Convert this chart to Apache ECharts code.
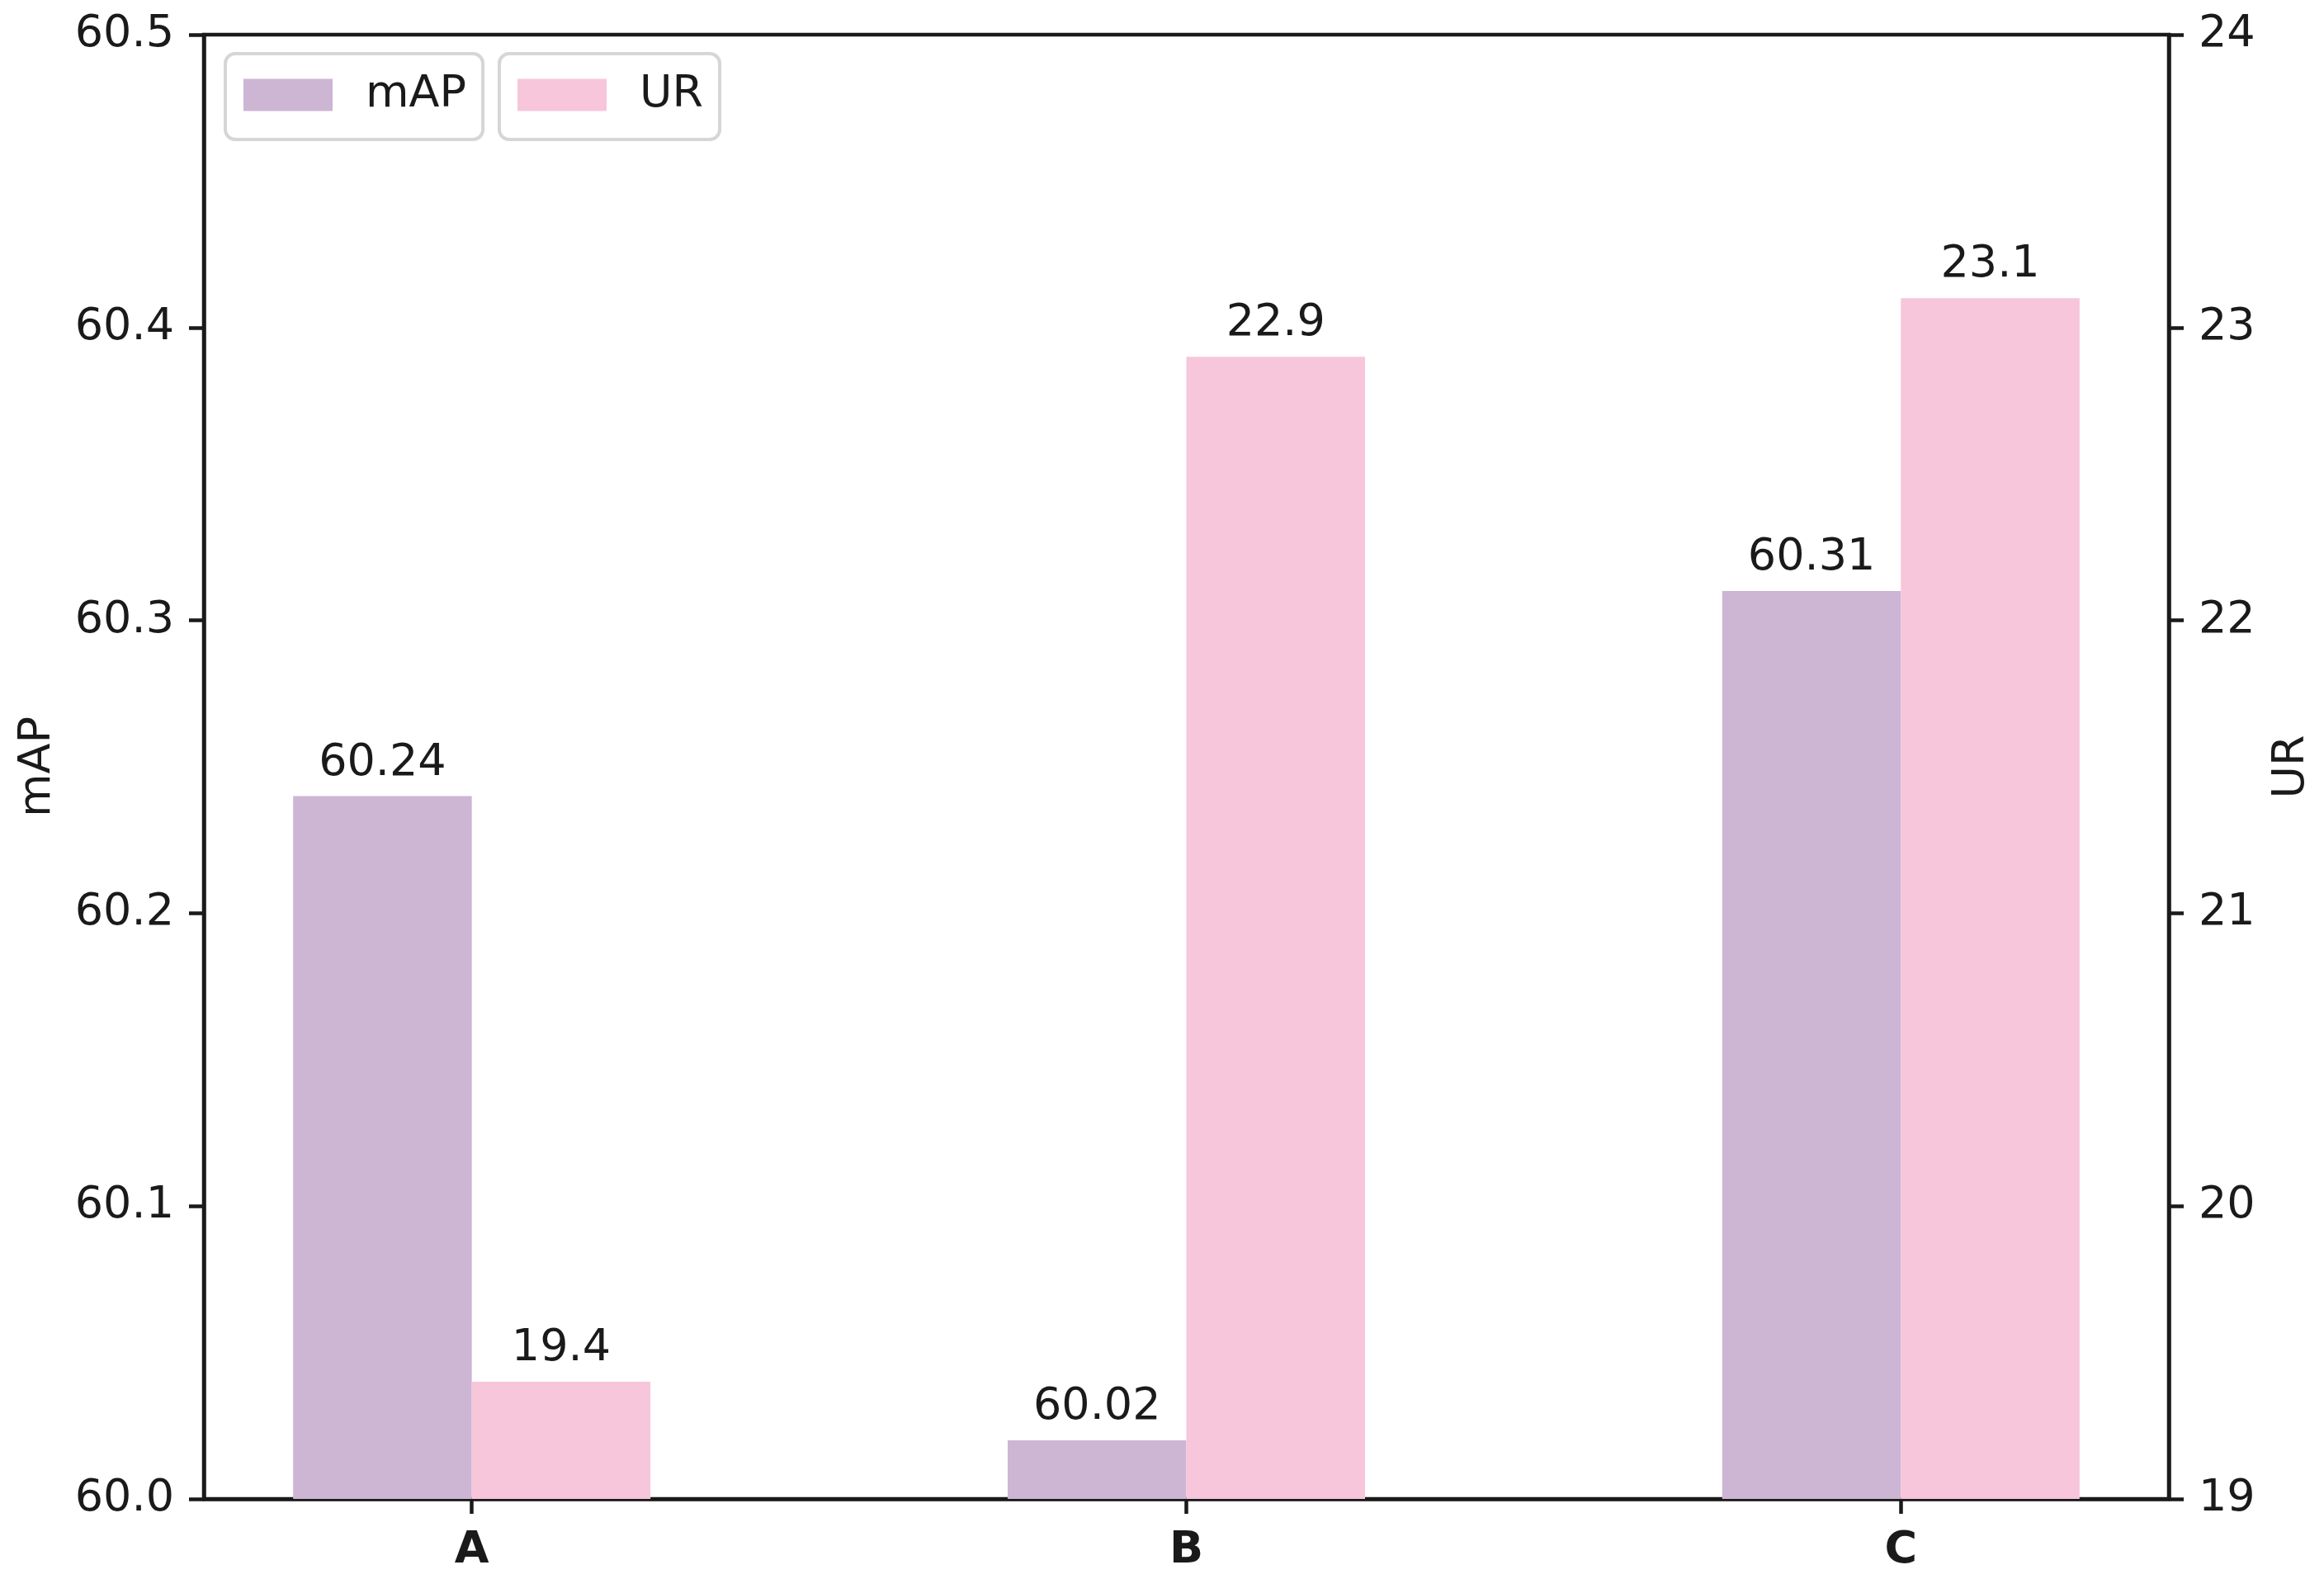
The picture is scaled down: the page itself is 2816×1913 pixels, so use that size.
<!DOCTYPE html>
<html>
<head>
<meta charset="utf-8">
<script src="https://cdn.jsdelivr.net/npm/echarts@6/dist/echarts.min.js"></script>
<style>html,body{margin:0;padding:0;background:#fff}#c{width:2816px;height:1913px}</style>
</head>
<body>
<div id="c"></div>
<script>
const categories = ['A', 'B', 'C'];
const mapValues = [60.24, 60.02, 60.31];
const urValues = [19.4, 22.9, 23.1];
const mapTicks = [60.0, 60.1, 60.2, 60.3, 60.4, 60.5];
const urTicks = [19, 20, 21, 22, 23, 24];

const INK = '#1a1a1a';
const FONT = 'DejaVu Sans';
const FS = 54;
const positions = categories.map((c, i) => i);

const chart = echarts.init(document.getElementById('c'), null, {renderer: 'canvas'});
const legendBase = {
  top: 65, orient: 'horizontal', itemWidth: 108, itemHeight: 39,
  padding: [23, 20, 27, 22], borderColor: '#d6d6d6', borderWidth: 4, borderRadius: 12,
  backgroundColor: '#fff', icon: 'rect', selectedMode: false,
  textStyle: {fontFamily: FONT, fontSize: FS, color: INK, padding: [0, 0, 0, 35], lineHeight: 47}
};
chart.setOption({
  animation: false,
  backgroundColor: '#fff',
  grid: {left: 247, right: 188, top: 42, bottom: 97, show: true, borderColor: INK, borderWidth: 4.5, backgroundColor: 'transparent'},
  legend: [
    Object.assign({}, legendBase, {left: 273, data: ['mAP']}),
    Object.assign({}, legendBase, {left: 605, data: ['UR']})
  ],
  xAxis: {
    type: 'value', min: -0.375, max: 2.375,
    splitLine: {show: false},
    axisLine: {show: true, onZero: false, lineStyle: {color: INK, width: 4.5}},
    axisTick: {show: true, customValues: positions, length: 18, lineStyle: {color: INK, width: 4.5}},
    axisLabel: {customValues: positions, margin: 36, fontFamily: FONT, fontSize: FS, fontWeight: 'bold', color: INK,
      formatter: v => categories[Math.round(v)] || ''}
  },
  yAxis: [
    {
      type: 'value', min: 60.0, max: 60.5, interval: 0.1, position: 'left',
      name: 'mAP', nameLocation: 'middle', nameGap: 174, nameRotate: 90,
      nameTextStyle: {fontFamily: FONT, fontSize: FS, color: INK},
      splitLine: {show: false},
      axisLine: {show: true, onZero: false, lineStyle: {color: INK, width: 4.5}},
      axisTick: {show: true, length: 18, lineStyle: {color: INK, width: 4.5}},
      axisLabel: {margin: 36, fontFamily: FONT, fontSize: FS, color: INK, formatter: v => {
        const t = mapTicks.find(x => Math.abs(x - v) < 1e-6); return t === undefined ? '' : t.toFixed(1); }}
    },
    {
      type: 'value', min: 19, max: 24, interval: 1, position: 'right',
      name: 'UR', nameLocation: 'middle', nameGap: 122, nameRotate: 90,
      nameTextStyle: {fontFamily: FONT, fontSize: FS, color: INK},
      splitLine: {show: false},
      axisLine: {show: true, onZero: false, lineStyle: {color: INK, width: 4.5}},
      axisTick: {show: true, length: 18, lineStyle: {color: INK, width: 4.5}},
      axisLabel: {margin: 36, fontFamily: FONT, fontSize: FS, color: INK, formatter: v => {
        const t = urTicks.find(x => Math.abs(x - v) < 1e-6); return t === undefined ? '' : String(t); }}
    }
  ],
  series: [
    {
      name: 'mAP', type: 'bar', yAxisIndex: 0, barWidth: 216.5, barGap: '0%',
      itemStyle: {color: '#cdb5d4'},
      label: {show: true, position: 'top', distance: 13, fontFamily: FONT, fontSize: FS, color: INK,
        formatter: p => p.value[1].toFixed(2)},
      data: positions.map((x, i) => [x, mapValues[i]])
    },
    {
      name: 'UR', type: 'bar', yAxisIndex: 1, barWidth: 216.5, barGap: '0%',
      itemStyle: {color: '#f7c6da'},
      label: {show: true, position: 'top', distance: 13, fontFamily: FONT, fontSize: FS, color: INK,
        formatter: p => p.value[1].toFixed(1)},
      data: positions.map((x, i) => [x, urValues[i]])
    }
  ]
});
</script>
</body>
</html>
